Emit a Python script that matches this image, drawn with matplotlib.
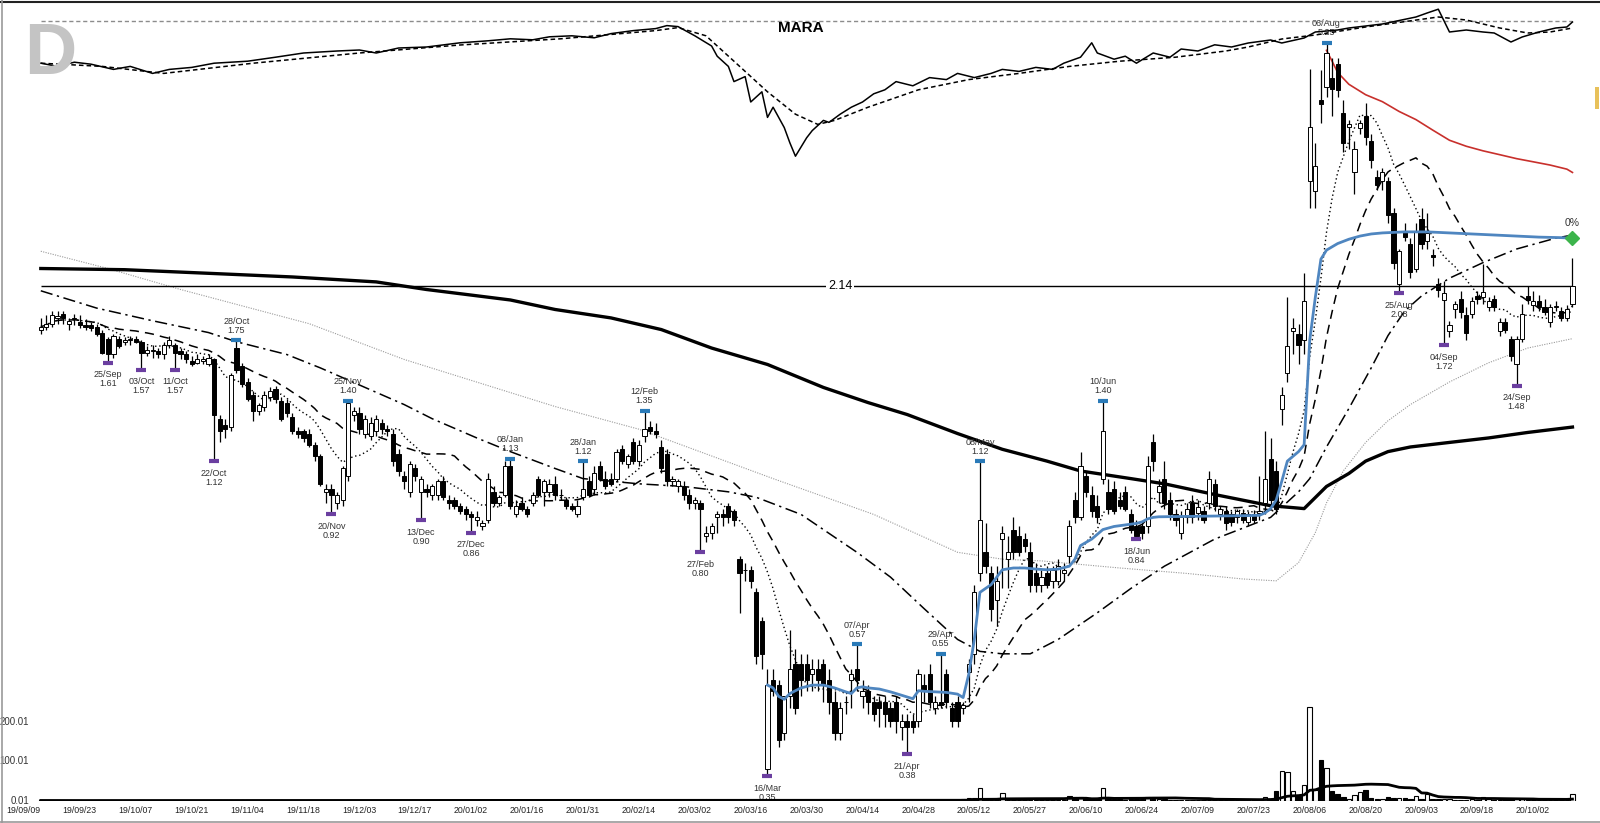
import matplotlib
matplotlib.use('Agg')
import matplotlib.pyplot as plt
from matplotlib.lines import Line2D
from matplotlib.patches import Rectangle
import numpy as np
import pandas as pd

plt.rcParams['font.family'] = ['Liberation Sans', 'DejaVu Sans']

# trading days shown on the chart
holidays = ['2019-11-28', '2019-12-25', '2020-01-01', '2020-01-20', '2020-02-17',
            '2020-04-10', '2020-05-25', '2020-07-03', '2020-09-07']
dates = pd.bdate_range('2019-09-09', periods=275, freq='C', holidays=holidays)

opens = [
    1.82, 1.84, 1.86, 1.90, 1.93, 1.86, 1.89, 1.87, 1.85, 1.85,
    1.84, 1.80, 1.76, 1.66, 1.76, 1.74, 1.75, 1.76, 1.74, 1.67,
    1.68, 1.68, 1.66, 1.72, 1.72, 1.68, 1.66, 1.62, 1.61, 1.62,
    1.60, 1.63, 1.31, 1.28, 1.27, 1.70, 1.59, 1.50, 1.43, 1.35,
    1.37, 1.42, 1.46, 1.40, 1.39, 1.32, 1.25, 1.25, 1.24, 1.19,
    1.14, 1.00, 1.01, 0.96, 0.97, 1.06, 1.33, 1.34, 1.24, 1.23,
    1.25, 1.29, 1.26, 1.24, 1.15, 1.06, 1.00, 1.09, 1.00, 1.01,
    0.99, 0.99, 1.04, 0.97, 0.97, 0.95, 0.94, 0.92, 0.90, 0.88,
    0.90, 1.00, 0.96, 0.99, 1.10, 0.92, 0.96, 0.94, 0.96, 1.05,
    1.00, 1.00, 1.03, 0.99, 0.97, 0.95, 0.92, 0.98, 1.04, 1.01,
    1.10, 1.05, 1.05, 1.05, 1.17, 1.11, 1.20, 1.12, 1.23, 1.27,
    1.25, 1.18, 1.15, 1.04, 1.02, 1.02, 0.99, 0.96, 0.96, 0.85,
    0.86, 0.91, 0.92, 0.95, 0.93, 0.78, 0.75, 0.75, 0.69, 0.62,
    0.36, 0.50, 0.49, 0.41, 0.47, 0.53, 0.53, 0.53, 0.51, 0.52,
    0.53, 0.50, 0.46, 0.41, 0.46, 0.50, 0.52, 0.47, 0.48, 0.46,
    0.46, 0.46, 0.45, 0.46, 0.42, 0.43, 0.43, 0.43, 0.49, 0.51,
    0.45, 0.46, 0.51, 0.45, 0.46, 0.45, 0.515, 0.55, 0.74, 0.80,
    0.74, 0.67, 0.84, 0.78, 0.87, 0.85, 0.84, 0.80, 0.74, 0.71,
    0.74, 0.72, 0.72, 0.74, 0.79, 0.97, 0.91, 1.06, 0.99, 0.95,
    1.05, 1.00, 1.01, 0.97, 1.00, 0.92, 0.88, 0.88, 0.88, 1.20,
    1.00, 1.05, 0.97, 0.92, 0.86, 0.91, 0.96, 0.925, 0.93, 0.96,
    1.03, 0.92, 0.93, 0.92, 0.91, 0.925, 0.895, 0.92, 0.925, 0.96,
    1.13, 1.08, 1.36, 1.55, 1.81, 1.79, 1.75, 3.15, 3.04, 4.25,
    4.45, 4.60, 4.85, 4.05, 3.85, 3.26, 3.83, 4.00, 3.65, 3.20,
    3.15, 3.15, 2.80, 2.15, 2.62, 2.50, 2.28, 2.74, 2.52, 2.40,
    2.15, 2.03, 1.81, 1.96, 2.04, 1.92, 1.93, 2.06, 2.05, 1.98,
    2.04, 1.81, 1.87, 1.76, 1.60, 1.76, 2.06, 1.99, 2.02, 1.98,
    1.87, 1.98, 1.95, 1.90, 2.00,
]
highs = [
    1.90, 1.92, 1.95, 1.95, 1.95, 1.90, 1.93, 1.92, 1.89, 1.87,
    1.86, 1.82, 1.77, 1.79, 1.78, 1.77, 1.78, 1.78, 1.75, 1.71,
    1.72, 1.70, 1.74, 1.78, 1.73, 1.70, 1.68, 1.65, 1.66, 1.65,
    1.66, 1.64, 1.33, 1.31, 1.55, 1.75, 1.61, 1.52, 1.45, 1.39,
    1.45, 1.47, 1.48, 1.42, 1.41, 1.34, 1.27, 1.26, 1.26, 1.20,
    1.15, 1.03, 1.03, 1.00, 1.10, 1.40, 1.37, 1.37, 1.33, 1.32,
    1.33, 1.31, 1.28, 1.26, 1.17, 1.08, 1.12, 1.11, 1.06, 1.03,
    1.03, 1.05, 1.06, 0.99, 0.98, 0.96, 0.95, 0.93, 0.93, 0.90,
    1.07, 1.02, 0.99, 1.12, 1.13, 0.97, 0.98, 0.95, 1.00, 1.06,
    1.05, 1.05, 1.06, 1.01, 0.98, 0.96, 0.97, 1.12, 1.06, 1.10,
    1.12, 1.08, 1.07, 1.17, 1.19, 1.15, 1.22, 1.21, 1.35, 1.30,
    1.29, 1.21, 1.17, 1.06, 1.05, 1.04, 1.01, 0.98, 0.97, 0.88,
    0.89, 0.93, 0.94, 0.96, 0.94, 0.79, 0.77, 0.76, 0.70, 0.63,
    0.52, 0.52, 0.50, 0.47, 0.60, 0.56, 0.55, 0.55, 0.54, 0.54,
    0.54, 0.52, 0.48, 0.46, 0.47, 0.52, 0.57, 0.50, 0.49, 0.47,
    0.47, 0.47, 0.46, 0.47, 0.44, 0.44, 0.44, 0.52, 0.51, 0.53,
    0.47, 0.55, 0.52, 0.46, 0.47, 0.46, 0.54, 0.71, 1.12, 0.89,
    0.76, 0.76, 0.88, 0.85, 0.91, 0.88, 0.86, 0.83, 0.77, 0.75,
    0.76, 0.76, 0.78, 0.77, 0.90, 1.00, 1.16, 1.08, 1.02, 0.99,
    1.40, 1.05, 1.04, 1.00, 1.02, 0.94, 0.90, 0.89, 1.14, 1.24,
    1.05, 1.12, 1.00, 0.94, 0.93, 0.96, 0.99, 0.97, 0.95, 1.08,
    1.05, 0.95, 0.95, 0.93, 0.94, 0.94, 0.93, 0.935, 1.06, 1.25,
    1.22, 1.12, 1.47, 2.05, 1.90, 1.86, 2.24, 4.76, 3.62, 4.75,
    5.25, 4.95, 4.95, 4.25, 3.95, 3.65, 3.95, 4.20, 3.75, 3.28,
    3.30, 3.20, 2.85, 2.45, 2.70, 2.55, 2.70, 2.85, 2.80, 2.45,
    2.20, 2.18, 1.88, 2.02, 2.10, 1.98, 2.05, 2.10, 2.32, 2.05,
    2.07, 1.90, 1.90, 1.78, 1.78, 2.00, 2.14, 2.10, 2.07, 2.04,
    2.00, 2.02, 1.98, 1.99, 2.37,
]
lows = [
    1.79, 1.82, 1.84, 1.86, 1.86, 1.82, 1.85, 1.83, 1.82, 1.81,
    1.78, 1.66, 1.61, 1.64, 1.70, 1.72, 1.72, 1.73, 1.57, 1.65,
    1.64, 1.64, 1.63, 1.70, 1.57, 1.63, 1.61, 1.59, 1.60, 1.60,
    1.59, 1.12, 1.20, 1.22, 1.25, 1.55, 1.47, 1.40, 1.30, 1.33,
    1.35, 1.40, 1.39, 1.30, 1.32, 1.24, 1.22, 1.20, 1.18, 1.12,
    1.02, 0.96, 0.92, 0.94, 0.95, 1.04, 1.30, 1.24, 1.22, 1.21,
    1.23, 1.24, 1.23, 1.10, 1.06, 1.01, 0.98, 1.04, 0.90, 0.98,
    0.97, 0.97, 0.97, 0.94, 0.94, 0.92, 0.90, 0.86, 0.88, 0.87,
    0.89, 0.95, 0.95, 0.98, 0.94, 0.91, 0.93, 0.91, 0.95, 0.98,
    0.95, 0.98, 0.97, 0.97, 0.94, 0.93, 0.91, 0.97, 0.98, 0.99,
    1.04, 1.01, 1.02, 1.04, 1.11, 1.09, 1.11, 1.10, 1.20, 1.24,
    1.22, 1.07, 1.02, 1.02, 1.00, 0.97, 0.94, 0.94, 0.80, 0.83,
    0.84, 0.86, 0.88, 0.89, 0.88, 0.64, 0.72, 0.70, 0.53, 0.52,
    0.35, 0.47, 0.39, 0.40, 0.45, 0.44, 0.47, 0.48, 0.48, 0.48,
    0.46, 0.44, 0.40, 0.40, 0.44, 0.45, 0.48, 0.45, 0.44, 0.43,
    0.42, 0.42, 0.42, 0.41, 0.40, 0.38, 0.41, 0.42, 0.46, 0.45,
    0.44, 0.45, 0.45, 0.42, 0.42, 0.44, 0.46, 0.53, 0.72, 0.74,
    0.62, 0.61, 0.70, 0.70, 0.78, 0.79, 0.80, 0.69, 0.69, 0.69,
    0.70, 0.70, 0.71, 0.72, 0.77, 0.89, 0.90, 0.98, 0.91, 0.89,
    1.03, 0.92, 0.92, 0.94, 0.93, 0.86, 0.84, 0.84, 0.86, 1.08,
    0.96, 0.94, 0.90, 0.88, 0.84, 0.89, 0.89, 0.90, 0.89, 0.94,
    0.93, 0.90, 0.87, 0.88, 0.89, 0.89, 0.88, 0.89, 0.90, 0.92,
    0.95, 0.92, 1.28, 1.50, 1.66, 1.60, 1.66, 2.85, 2.85, 3.90,
    4.30, 4.00, 4.30, 3.50, 3.55, 3.00, 3.75, 3.60, 3.30, 3.05,
    3.05, 2.70, 2.28, 2.08, 2.52, 2.20, 2.25, 2.45, 2.45, 2.30,
    2.05, 1.72, 1.77, 1.90, 1.90, 1.75, 1.90, 2.00, 2.00, 1.95,
    1.95, 1.78, 1.80, 1.62, 1.48, 1.74, 2.00, 1.95, 1.95, 1.92,
    1.84, 1.95, 1.88, 1.88, 1.98,
]
closes = [
    1.84, 1.86, 1.92, 1.91, 1.90, 1.88, 1.90, 1.85, 1.84, 1.83,
    1.79, 1.67, 1.66, 1.78, 1.71, 1.75, 1.76, 1.74, 1.67, 1.69,
    1.69, 1.66, 1.72, 1.75, 1.67, 1.66, 1.63, 1.60, 1.63, 1.63,
    1.64, 1.33, 1.25, 1.26, 1.54, 1.57, 1.49, 1.41, 1.35, 1.38,
    1.43, 1.45, 1.41, 1.31, 1.34, 1.25, 1.24, 1.22, 1.19, 1.14,
    1.03, 1.01, 0.99, 0.99, 1.09, 1.39, 1.35, 1.26, 1.31, 1.29,
    1.31, 1.26, 1.25, 1.12, 1.08, 1.04, 1.11, 1.06, 1.05, 1.00,
    1.02, 1.04, 0.98, 0.96, 0.95, 0.93, 0.92, 0.91, 0.91, 0.89,
    1.05, 0.96, 0.98, 1.10, 0.95, 0.95, 0.94, 0.92, 0.99, 0.99,
    1.04, 1.03, 0.99, 0.99, 0.95, 0.94, 0.95, 1.01, 0.99, 1.07,
    1.05, 1.02, 1.03, 1.16, 1.12, 1.14, 1.12, 1.19, 1.26, 1.25,
    1.24, 1.09, 1.04, 1.05, 1.04, 0.99, 0.96, 0.97, 0.94, 0.86,
    0.88, 0.92, 0.91, 0.91, 0.90, 0.74, 0.75, 0.72, 0.545, 0.55,
    0.49, 0.48, 0.40, 0.47, 0.52, 0.45, 0.50, 0.50, 0.52, 0.50,
    0.49, 0.46, 0.41, 0.45, 0.46, 0.51, 0.50, 0.48, 0.46, 0.44,
    0.45, 0.44, 0.43, 0.43, 0.43, 0.42, 0.42, 0.51, 0.48, 0.46,
    0.46, 0.455, 0.46, 0.43, 0.43, 0.455, 0.53, 0.69, 0.90, 0.76,
    0.65, 0.72, 0.86, 0.80, 0.80, 0.80, 0.82, 0.71, 0.71, 0.73,
    0.71, 0.75, 0.76, 0.75, 0.88, 0.91, 1.10, 1.00, 0.93, 0.91,
    1.25, 0.94, 0.93, 0.95, 0.94, 0.87, 0.85, 0.86, 1.10, 1.12,
    1.02, 0.96, 0.92, 0.90, 0.91, 0.94, 0.91, 0.945, 0.90, 1.05,
    0.95, 0.94, 0.89, 0.895, 0.93, 0.90, 0.92, 0.90, 0.93, 1.05,
    0.97, 0.94, 1.43, 1.71, 1.83, 1.72, 2.02, 3.85, 3.33, 4.18,
    5.05, 4.42, 4.40, 3.62, 3.88, 3.55, 3.90, 3.70, 3.40, 3.10,
    3.25, 2.78, 2.33, 2.43, 2.56, 2.25, 2.62, 2.50, 2.60, 2.38,
    2.11, 2.08, 1.85, 2.00, 1.94, 1.80, 2.02, 2.04, 2.09, 2.02,
    1.98, 1.87, 1.82, 1.65, 1.76, 1.93, 2.03, 2.02, 1.98, 1.94,
    1.98, 1.985, 1.90, 1.96, 2.14,
]
volumes = [
    0.6, 0.5, 0.5, 0.4, 0.5, 0.4, 0.5, 0.4, 0.4, 0.5,
    0.6, 0.7, 0.8, 0.6, 0.5, 0.4, 0.4, 0.5, 0.7, 0.5,
    0.4, 0.4, 0.5, 0.5, 0.6, 0.4, 0.4, 0.5, 0.4, 0.4,
    0.5, 1.8, 1.0, 0.7, 1.4, 1.2, 0.8, 0.7, 0.8, 0.5,
    0.5, 0.4, 0.4, 0.6, 0.5, 0.6, 0.4, 0.4, 0.5, 0.6,
    0.9, 0.8, 0.7, 0.5, 0.8, 1.6, 0.9, 0.7, 0.6, 0.5,
    0.5, 0.4, 0.4, 0.8, 0.7, 0.6, 0.7, 0.5, 0.8, 0.4,
    0.4, 0.5, 0.5, 0.4, 0.4, 0.3, 0.4, 0.5, 0.4, 0.4,
    0.9, 0.6, 0.5, 0.8, 1.0, 0.6, 0.5, 0.4, 0.5, 0.6,
    0.5, 0.5, 0.4, 0.4, 0.5, 0.4, 0.5, 0.9, 0.6, 0.7,
    0.6, 0.5, 0.4, 0.8, 0.7, 0.5, 0.6, 0.6, 1.1, 0.6,
    0.5, 0.9, 0.9, 0.5, 0.4, 0.5, 0.5, 0.4, 0.8, 0.6,
    0.5, 0.6, 0.5, 0.5, 0.5, 1.2, 0.6, 0.7, 1.5, 1.3,
    1.8, 1.0, 1.2, 1.0, 1.1, 0.9, 0.8, 0.7, 0.6, 0.6,
    0.7, 0.8, 0.9, 0.7, 0.5, 0.9, 1.2, 0.7, 0.6, 0.6,
    0.5, 0.6, 0.6, 0.7, 0.6, 0.8, 0.6, 1.8, 1.0, 1.1,
    0.8, 2.0, 1.2, 0.8, 0.9, 5.5, 7.5, 7.5, 33, 3.5,
    2.5, 2.2, 20, 3.0, 2.5, 2.2, 2.0, 2.5, 2.0, 1.8,
    1.6, 1.8, 2.0, 1.8, 13, 10, 9, 8, 6, 6,
    33, 5, 4, 3.5, 3, 4, 4.5, 3.5, 10, 4.5,
    4, 4, 3, 2.5, 2.5, 2.2, 2.5, 3, 3, 3,
    2.8, 2.5, 2.2, 2, 2, 2, 2.2, 2, 2.5, 10,
    5, 24.5, 76, 73, 25, 12, 40, 236, 26, 102,
    82, 25, 16, 10, 5, 14, 22, 26, 8, 5,
    5, 9, 6, 6, 6, 4, 12, 5, 16, 5,
    4, 3.5, 3.5, 3, 3, 3, 3.5, 3, 9, 3.5,
    3, 3, 3.5, 4, 4, 3.5, 3, 3, 3, 3,
    2.5, 2.5, 2.5, 2.5, 16,
]

# longer moving averages (they need history before the window)
sma50_idx = [0, 10, 20, 30, 35, 44, 50, 58, 65, 70, 78, 84, 92, 97, 107, 115, 123, 128, 136, 140,
             146, 152, 158, 164, 168, 172, 177, 182, 189, 195, 201, 210, 220, 225, 227, 230, 234, 238, 241, 244,
             247, 252, 258, 264, 271, 274]
sma50_val = [2.10, 1.97, 1.88, 1.80, 1.74, 1.66, 1.58, 1.47, 1.38, 1.31, 1.22, 1.16, 1.09, 1.05, 1.03, 1.02, 1.00, 0.98, 0.92, 0.87,
             0.80, 0.73, 0.65, 0.58, 0.555, 0.55, 0.55, 0.58, 0.64, 0.70, 0.76, 0.84, 0.91, 1.00, 1.05, 1.18, 1.36, 1.58, 1.78, 1.95,
             2.06, 2.20, 2.33, 2.45, 2.55, 2.58]
sma100_idx = [0, 12, 25, 48, 65, 92, 107, 131, 149, 164, 172, 179, 193, 205, 215, 221, 225, 228, 230, 233,
              237, 241, 245, 252, 259, 266, 274]
sma100_val = [2.43, 2.28, 2.11, 1.86, 1.63, 1.37, 1.26, 1.05, 0.92, 0.80, 0.78, 0.775, 0.755, 0.74, 0.725, 0.72, 0.77, 0.86, 0.96, 1.08,
              1.20, 1.30, 1.38, 1.50, 1.61, 1.70, 1.76]
sma200_idx = [0, 15, 30, 45, 60, 69, 84, 92, 102, 111, 120, 130, 140, 148, 155, 164, 172, 180, 186, 195,
              201, 210, 220, 226, 230, 234, 237, 241, 245, 252, 259, 266, 274]
sma200_val = [2.28, 2.27, 2.24, 2.21, 2.17, 2.11, 2.03, 1.96, 1.90, 1.82, 1.70, 1.60, 1.47, 1.39, 1.33, 1.24, 1.17, 1.12, 1.08, 1.05,
              1.03, 0.99, 0.95, 0.94, 1.02, 1.07, 1.12, 1.16, 1.18, 1.20, 1.22, 1.245, 1.27]

# anchored vwap lines
blue_idx = [130, 131, 132, 133, 134, 135, 136, 138, 140, 142, 144, 145, 146, 147, 148, 150, 152, 154, 156, 157,
            158, 160, 162, 164, 165, 166, 167, 168, 169, 170, 172, 174, 176, 178, 180, 182, 184, 185, 186, 188,
            190, 192, 194, 196, 197, 198, 199, 200, 204, 208, 212, 216, 218, 219, 220, 221, 222, 223, 224, 225,
            226, 227, 228, 229, 230, 231, 232, 234, 236, 238, 240, 244, 248, 252, 256, 260, 264, 268, 272, 274]
blue_val = [0.49, 0.485, 0.47, 0.465, 0.475, 0.48, 0.485, 0.49, 0.49, 0.485, 0.478, 0.475, 0.485, 0.487, 0.485, 0.483, 0.478, 0.472, 0.466, 0.48,
            0.479, 0.478, 0.477, 0.474, 0.468, 0.51, 0.58, 0.69, 0.70, 0.71, 0.75, 0.755, 0.755, 0.752, 0.75, 0.752, 0.76, 0.78, 0.82, 0.84,
            0.87, 0.88, 0.885, 0.89, 0.895, 0.905, 0.91, 0.912, 0.913, 0.914, 0.915, 0.916, 0.917, 0.925, 0.94, 0.97, 1.04, 1.12, 1.14, 1.16,
            1.19, 1.75, 2.05, 2.36, 2.44, 2.47, 2.50, 2.54, 2.57, 2.59, 2.60, 2.61, 2.61, 2.60, 2.59, 2.58, 2.57, 2.56, 2.555, 2.55]
red_idx = [230, 231, 232, 234, 237, 240, 243, 246, 249, 252, 255, 258, 261, 264, 267, 270, 273, 274]
red_val = [5.10, 4.90, 4.70, 4.50, 4.33, 4.22, 4.07, 3.95, 3.80, 3.66, 3.58, 3.52, 3.47, 3.42, 3.38, 3.34, 3.29, 3.25]

# relative strength panel (top)
rs_idx = [0, 3, 6, 9, 13, 16, 20, 23, 27, 31, 37, 42, 47, 53, 57, 60, 64, 69, 75, 80,
          84, 88, 91, 95, 99, 102, 106, 110, 112, 114, 117, 120, 121, 123, 124, 126, 127, 129, 130, 131,
          133, 134, 135, 137, 138, 140, 141, 143, 145, 147, 149, 151, 153, 156, 159, 162, 164, 167, 170, 172,
          175, 178, 181, 183, 186, 188, 189, 192, 194, 196, 199, 202, 204, 207, 210, 213, 216, 220, 222, 226,
          228, 232, 234, 240, 246, 248, 250, 252, 255, 258, 260, 263, 265, 268, 271, 273, 274]
rs_val = [78.9, 77.3, 79.4, 78.4, 75.8, 77.3, 73.8, 75.8, 76.8, 78.9, 79.9, 81.9, 84.0, 85.0, 85.5, 84.0, 86.5, 87.0, 89.1, 90.1,
          91.1, 90.6, 92.1, 92.6, 91.6, 93.7, 95.2, 96.2, 97.7, 97.2, 92.6, 87.5, 82.4, 77.3, 69.7, 72.2, 59.5, 64.6, 51.8, 56.9,
          46.7, 39.1, 32.4, 41.6, 45.2, 50.3, 49.3, 53.4, 56.9, 59.5, 63.6, 65.6, 69.7, 67.6, 71.7, 70.7, 73.8, 71.7, 73.8, 75.8,
          74.8, 76.8, 75.8, 78.9, 81.9, 89.1, 84.0, 80.9, 82.4, 78.9, 84.0, 81.9, 86.0, 85.0, 88.1, 87.0, 89.0, 90.5, 89.0, 91.5,
          94.5, 95.5, 96.5, 98.5, 102.0, 104.0, 105.9, 94.5, 95.5, 94.5, 94.0, 89.5, 92.0, 94.5, 96.5, 97.0, 99.5]
rs_ma_idx = [0, 11, 22, 38, 57, 75, 93, 110, 114, 119, 124, 130, 135, 139, 142, 148, 157, 166, 175, 184,
             193, 203, 212, 216, 222, 228, 237, 250, 255, 261, 266, 270, 274]
rs_ma_val = [78.9, 77.3, 73.8, 78.9, 84.0, 88.0, 91.1, 95.2, 96.7, 92.6, 79.9, 64.6, 53.4, 48.3, 50.3, 56.9, 65.6, 70.7, 73.8, 77.3,
             79.9, 81.9, 85.0, 87.0, 91.0, 93.0, 97.0, 102.0, 100.5, 96.5, 94.0, 94.5, 96.5]

high_marks = [35, 55, 84, 97, 108, 146, 161, 168, 190, 230]
low_marks = [12, 18, 24, 31, 52, 68, 77, 118, 130, 155, 196, 243, 251, 264]
last_price = 2.14


W, H = 1600, 823


def box(left, top, width, height):
    return [left / W, 1 - (top + height) / H, width / W, height / H]


x0 = -(40.8 - 3) / 5.59
x1 = x0 + 1593 / 5.59

idx = np.arange(len(closes))
o = np.array(opens)
h = np.array(highs)
l = np.array(lows)
c = np.array(closes)
v = np.array(volumes)
up = c >= o

close_s = pd.Series(closes)
sma10 = close_s.rolling(10, min_periods=1).mean()
sma20 = close_s.rolling(20, min_periods=1).mean()
vol_ma = pd.Series(volumes).rolling(20, min_periods=1).mean()

fig = plt.figure(figsize=(16, 8.23), dpi=100)

# price panel
ax = fig.add_axes(box(3, 3, 1593, 798))
ax.set_yscale('log')
ax.set_xlim(x0, x1)
ax.set_ylim(0.3195, 6.074)
ax.axis('off')

ax.plot(sma100_idx, sma100_val, color='#9a9a9a', lw=0.8, dashes=(1, 1.2), zorder=2)
ax.plot(sma200_idx, sma200_val, color='black', lw=2.4, zorder=2)
ax.plot(sma50_idx, sma50_val, color='black', lw=1.1, dashes=(8, 3, 1.5, 3), zorder=2)
ax.plot(idx, sma20, color='black', lw=1.1, dashes=(6, 4), zorder=2)
ax.plot(idx, sma10, color='black', lw=1.0, dashes=(1, 2), zorder=2)
ax.plot(red_idx, red_val, color='#c8302c', lw=1.2, zorder=2)
ax.plot(blue_idx, blue_val, color='#4f86c0', lw=2.0, zorder=5)
ax.plot(blue_idx[-1], blue_val[-1], marker='D', ms=7, color='#3cb44b', zorder=6)
ax.text(blue_idx[-1], 2.70, '0%', ha='center', va='center', fontsize=7.5, color='#333333')

ax.hlines(last_price, 0, idx[-1], color='black', lw=1.0, zorder=3)
ax.text(143, last_price, f'{last_price:.2f}', ha='center', va='center', fontsize=9,
        bbox=dict(facecolor='white', edgecolor='none', pad=1.5), zorder=4)

ax.vlines(idx, l, h, colors='black', lw=0.9, zorder=3)
ax.bar(idx, np.abs(c - o), bottom=np.minimum(o, c), width=0.75,
       color=np.where(up, 'white', 'black'), edgecolor='black', linewidth=0.7, zorder=4)

for i in high_marks:
    ax.plot(i, highs[i], marker='_', ms=6.5, mew=3, color='#2a7ab8', zorder=6)
    ax.annotate(f'{dates[i]:%d/%b}\n{highs[i]:.2f}', (i, highs[i]), xytext=(0, 4),
                textcoords='offset points', ha='center', va='bottom', fontsize=6.5,
                color='#333333', linespacing=1.0, zorder=7)
for i in low_marks:
    ax.plot(i, lows[i], marker='_', ms=6.5, mew=3, color='#6b3fa0', zorder=6)
    ax.annotate(f'{dates[i]:%d/%b}\n{lows[i]:.2f}', (i, lows[i]), xytext=(0, -5.5),
                textcoords='offset points', ha='center', va='top', fontsize=6.5,
                color='#333333', linespacing=1.0, zorder=7)

# volume panel
vax = fig.add_axes(box(3, 700.7, 1593, 100))
vax.patch.set_alpha(0)
vax.set_xlim(x0, x1)
vax.set_ylim(0.01, 253.2)
vax.bar(idx, v, width=0.8, color=np.where(up, 'white', 'black'), edgecolor='black', linewidth=0.8)
vax.plot(idx, vol_ma, color='black', lw=2.0)
for s in vax.spines.values():
    s.set_visible(False)
vax.set_yticks([])
ticks = list(range(0, len(closes), 10))
vax.set_xticks(ticks)
vax.set_xticklabels([f'{dates[i]:%y/%m/%d}' for i in ticks], ha='right')
vax.tick_params(axis='x', length=0, pad=3.5, labelsize=6.3, colors='#222222')
for val in [0.01, 100.01, 200.01]:
    vax.text(0.0163, val, f'{val:.2f}', transform=vax.get_yaxis_transform(), ha='right',
             va='center', fontsize=7, color='#333333')

# relative strength panel
tax = fig.add_axes(box(3, 0, 1593, 175))
tax.patch.set_alpha(0)
tax.set_xlim(x0, x1)
tax.set_ylim(23, 110.5)
tax.axis('off')
tax.hlines(100, 0, idx[-1], color='#8c8c8c', lw=1.0, linestyles=(0, (3, 2)))
tax.plot(rs_ma_idx, rs_ma_val, color='black', lw=1.1, dashes=(3, 2))
tax.plot(rs_idx, rs_val, color='black', lw=1.1)

fig.text(801 / W, 1 - 28 / H, 'MARA', ha='center', va='center', fontsize=11, fontweight='bold')
fig.text(24 / W, 1 - 74 / H, 'D', ha='left', va='baseline', fontsize=52, fontweight='bold', color='#c4c4c4')

# frame
fig.add_artist(Line2D([0, 1], [1 - 1.7 / H, 1 - 1.7 / H], transform=fig.transFigure, color='#222222', lw=1.5))
fig.add_artist(Line2D([1.7 / W, 1.7 / W], [0, 1], transform=fig.transFigure, color='#999999', lw=1.2))
fig.add_artist(Line2D([0, 1], [1.5 / H, 1.5 / H], transform=fig.transFigure, color='#999999', lw=1.2))
fig.add_artist(Rectangle((1595 / W, 1 - 109 / H), 4 / W, 22 / H, transform=fig.transFigure,
                         color='#e8c15a', lw=0))

fig.savefig('out.png', dpi=100)
